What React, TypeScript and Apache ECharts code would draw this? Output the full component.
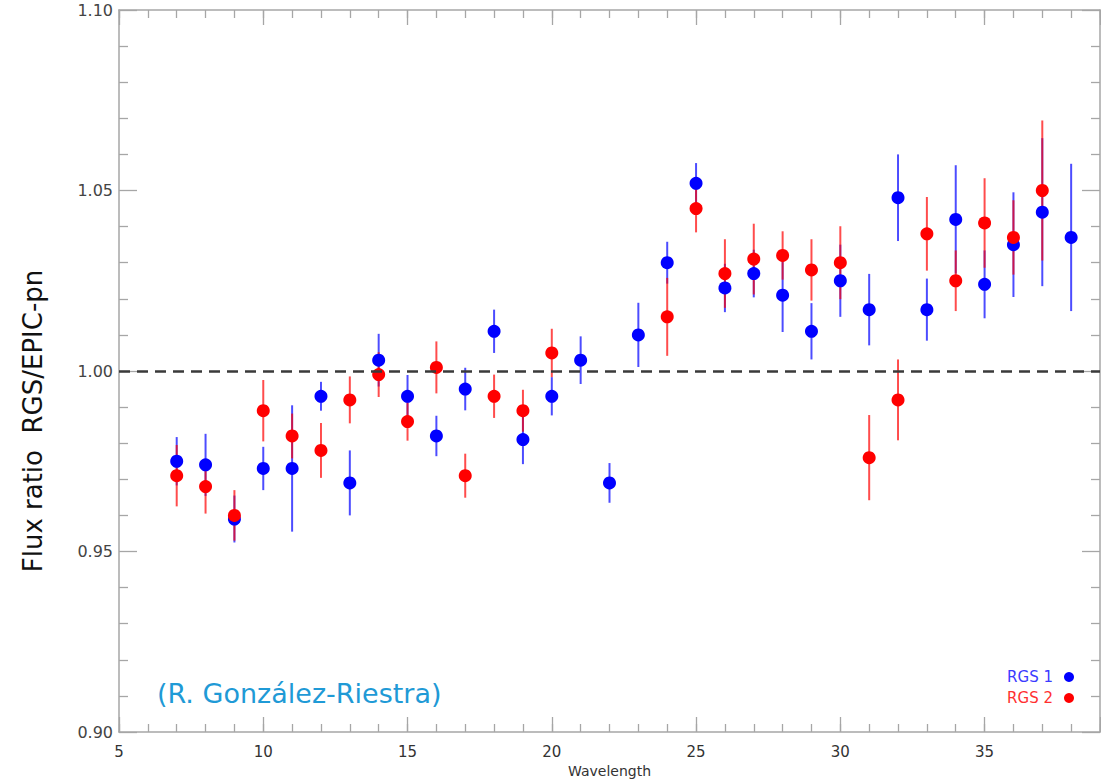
import React, { useEffect, useRef } from "react";
import * as echarts from "echarts";

// Wavelength bins
const rgs1Wavelength = [7, 8, 9, 10, 11, 12, 13, 14, 15, 16, 17, 18, 19, 20, 21, 22, 23, 24, 25, 26, 27, 28, 29, 30, 31, 32, 33, 34, 35, 36, 37, 38];
const rgs1Ratio = [0.975, 0.974, 0.959, 0.973, 0.973, 0.993, 0.969, 1.003, 0.993, 0.982, 0.995, 1.011, 0.981, 0.993, 1.003, 0.969, 1.010, 1.030, 1.052, 1.023, 1.027, 1.021, 1.011, 1.025, 1.017, 1.048, 1.017, 1.042, 1.024, 1.035, 1.044, 1.037];
const rgs1Error = [0.0067, 0.0086, 0.0065, 0.006, 0.0175, 0.004, 0.009, 0.0073, 0.0059, 0.0056, 0.0059, 0.006, 0.0068, 0.0053, 0.0066, 0.0055, 0.0089, 0.0058, 0.0056, 0.0067, 0.0066, 0.0102, 0.0078, 0.010, 0.0099, 0.012, 0.0086, 0.015, 0.0094, 0.0145, 0.0205, 0.0204];

const rgs2Wavelength = [7, 8, 9, 10, 11, 12, 13, 14, 15, 16, 17, 18, 19, 20, 24, 25, 26, 27, 28, 29, 30, 31, 32, 33, 34, 35, 36, 37];
const rgs2Ratio = [0.971, 0.968, 0.960, 0.989, 0.982, 0.978, 0.992, 0.999, 0.986, 1.001, 0.971, 0.993, 0.989, 1.005, 1.015, 1.045, 1.027, 1.031, 1.032, 1.028, 1.030, 0.976, 0.992, 1.038, 1.025, 1.041, 1.037, 1.050];
const rgs2Error = [0.0085, 0.0075, 0.007, 0.0085, 0.0062, 0.0076, 0.0065, 0.0062, 0.0053, 0.0072, 0.0061, 0.006, 0.0058, 0.0067, 0.0108, 0.0066, 0.0095, 0.0098, 0.0067, 0.0085, 0.0101, 0.0118, 0.0112, 0.0102, 0.0084, 0.0124, 0.0103, 0.0194];

const xMin = 5;
const xMax = 39;
const yMin = 0.9;
const yMax = 1.1;
const referenceLevel = 1.0;

const seriesNames = ["RGS 1", "RGS 2"];
const yAxisTitle = "Flux ratio  RGS/EPIC-pn";
const xAxisTitle = "Wavelength";
const creditText = "(R. González-Riestra)";

const FONT = "DejaVu Sans";
const FRAME = "#a6a6a6";
const BLUE = "#0000ff";
const RED = "#ff0000";

function errorBarSeries(xs: number[], ys: number[], errs: number[], color: string) {
  return {
    type: "custom",
    xAxisIndex: 0,
    yAxisIndex: 0,
    silent: true,
    data: xs.map((x, i) => [x, ys[i] - errs[i], ys[i] + errs[i]]),
    renderItem: (params: any, api: any) => {
      const p1 = api.coord([api.value(0), api.value(1)]);
      const p2 = api.coord([api.value(0), api.value(2)]);
      return {
        type: "line",
        shape: { x1: p1[0], y1: p1[1], x2: p2[0], y2: p2[1] },
        style: { stroke: color, lineWidth: 2, opacity: 0.7 },
      };
    },
  };
}

function dotSeries(name: string, xs: number[], ys: number[], color: string) {
  return {
    type: "scatter",
    name,
    xAxisIndex: 0,
    yAxisIndex: 0,
    symbol: "circle",
    symbolSize: 13,
    itemStyle: { color, opacity: 1 },
    data: xs.map((x, i) => [x, ys[i]]),
  };
}

function xAxisDef(position: string, interval: number, tickLen: number, showLine: boolean, showLabel: boolean) {
  return {
    type: "value",
    min: xMin,
    max: xMax,
    interval,
    position,
    axisLine: { show: showLine, onZero: false, lineStyle: { color: FRAME, width: 1.5 } },
    axisTick: { show: true, inside: true, length: tickLen, lineStyle: { color: FRAME, width: 1.3 } },
    axisLabel: {
      show: showLabel,
      formatter: (v: number) => (v % 5 === 0 ? String(v) : ""),
      margin: 12,
      fontSize: 15,
      color: "#333",
      fontFamily: FONT,
    },
    splitLine: { show: false },
    ...(showLabel
      ? {
          name: xAxisTitle,
          nameLocation: "middle",
          nameGap: 32,
          nameTextStyle: { fontSize: 14, color: "#333", fontFamily: FONT },
        }
      : {}),
  };
}

function yAxisDef(position: string, showLabel: boolean) {
  return {
    type: "value",
    min: yMin,
    max: yMax,
    interval: 0.05,
    position,
    axisLine: { show: true, onZero: false, lineStyle: { color: FRAME, width: 1.5 } },
    axisTick: { show: true, inside: true, length: 18, lineStyle: { color: FRAME, width: 1.3 } },
    minorTick: { show: true, splitNumber: 5, length: 9, lineStyle: { color: FRAME, width: 1.3 } },
    axisLabel: {
      show: showLabel,
      formatter: (v: number) => v.toFixed(2),
      margin: 6,
      fontSize: 16,
      color: "#444",
      fontFamily: FONT,
    },
    splitLine: { show: false },
    minorSplitLine: { show: false },
  };
}

export default function App() {
  const ref = useRef<HTMLDivElement>(null);

  useEffect(() => {
    if (!ref.current) return;
    const chart = echarts.init(ref.current, null, { renderer: "svg" });
    const red = dotSeries(seriesNames[1], rgs2Wavelength, rgs2Ratio, RED) as any;
    red.markLine = {
      silent: true,
      symbol: ["none", "none"],
      label: { show: false },
      lineStyle: { color: "#3a3a3a", width: 2.6, type: [11, 7] },
      data: [{ yAxis: referenceLevel }],
    };
    const option: any = {
      animation: false,
      backgroundColor: "#ffffff",
      grid: { left: 119, top: 10, right: 1, bottom: 50, containLabel: false, outerBoundsMode: "none" },
      xAxis: [
        xAxisDef("bottom", 5, 15, true, true),
        xAxisDef("bottom", 1, 8, false, false),
        xAxisDef("top", 5, 15, true, false),
        xAxisDef("top", 1, 8, false, false),
      ],
      yAxis: [yAxisDef("left", true), yAxisDef("right", false)],
      series: [
        errorBarSeries(rgs1Wavelength, rgs1Ratio, rgs1Error, BLUE),
        dotSeries(seriesNames[0], rgs1Wavelength, rgs1Ratio, BLUE),
        errorBarSeries(rgs2Wavelength, rgs2Ratio, rgs2Error, RED),
        red,
      ],
      graphic: [
        {
          type: "text",
          x: 33,
          y: 421,
          rotation: Math.PI / 2,
          style: {
            text: yAxisTitle,
            fontSize: 26,
            fontFamily: FONT,
            fill: "#111",
            align: "center",
            verticalAlign: "middle",
          },
        },
        {
          type: "text",
          x: 157,
          y: 693,
          style: {
            text: creditText,
            fontSize: 27,
            fontFamily: FONT,
            fill: "#1f9ad6",
            align: "left",
            verticalAlign: "middle",
          },
        },
        {
          type: "text",
          x: 1053,
          y: 677,
          style: { text: seriesNames[0], fontSize: 15, fontFamily: FONT, fill: "#3b3bff", align: "right", verticalAlign: "middle" },
        },
        { type: "circle", shape: { cx: 1069, cy: 677, r: 5 }, style: { fill: BLUE } },
        {
          type: "text",
          x: 1053,
          y: 698,
          style: { text: seriesNames[1], fontSize: 15, fontFamily: FONT, fill: "#ff3030", align: "right", verticalAlign: "middle" },
        },
        { type: "circle", shape: { cx: 1069, cy: 698, r: 5 }, style: { fill: RED } },
      ],
    };
    chart.setOption(option);
    return () => chart.dispose();
  }, []);

  return (
    <div
      ref={ref}
      style={{ position: "absolute", left: 0, top: 0, width: 1101, height: 782, background: "#fff" }}
    />
  );
}
